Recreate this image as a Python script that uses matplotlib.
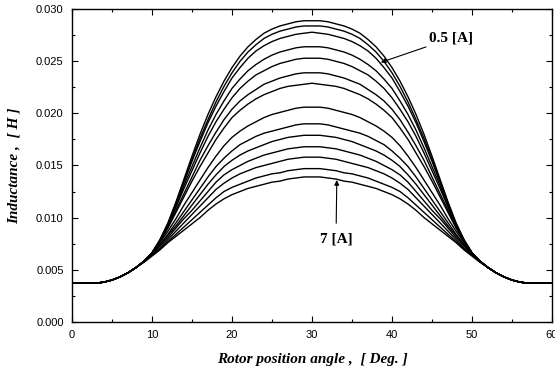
import matplotlib.pyplot as plt
from matplotlib.ticker import MultipleLocator, FormatStrFormatter
import numpy as np

# rotor angle 0..30 deg (1 deg steps); the curves are symmetric about 30 deg
half_angle = list(range(0, 31))
currents = [0.5, 1.0, 1.5, 2.0, 2.5, 3.0, 3.5, 4.0, 4.5, 5.0, 5.5, 6.0, 6.5, 7.0]

# inductance, in units of 1e-4 H
L_05 = [37, 37, 37, 37, 38, 40, 43, 47, 52, 58, 66, 79, 95, 115, 137, 159, 180, 199, 216, 231, 244, 255, 264, 271, 277, 281, 284, 286, 288, 289, 289]
L_10 = [37, 37, 37, 37, 38, 40, 43, 47, 52, 58, 66, 78, 94, 114, 135, 156, 176, 194, 211, 226, 239, 250, 259, 266, 272, 276, 279, 281, 283, 284, 284]
L_15 = [37, 37, 37, 37, 38, 40, 43, 47, 52, 58, 66, 78, 94, 113, 134, 154, 173, 191, 207, 221, 234, 244, 253, 260, 265, 269, 272, 274, 276, 277, 278]
L_20 = [37, 37, 37, 37, 38, 40, 43, 47, 52, 58, 66, 78, 93, 111, 131, 149, 167, 184, 199, 212, 224, 233, 241, 247, 252, 256, 259, 261, 263, 264, 264]
L_25 = [37, 37, 37, 37, 38, 40, 43, 47, 52, 58, 66, 78, 92, 110, 128, 145, 162, 178, 192, 204, 215, 224, 231, 237, 241, 245, 248, 250, 252, 253, 253]
L_30 = [37, 37, 37, 37, 38, 40, 43, 47, 52, 58, 66, 77, 91, 107, 123, 139, 155, 169, 182, 194, 204, 212, 218, 223, 228, 231, 234, 236, 238, 239, 239]
L_35 = [37, 37, 37, 37, 38, 40, 43, 47, 52, 58, 66, 77, 90, 105, 120, 135, 149, 162, 175, 186, 196, 203, 209, 214, 218, 221, 224, 226, 227, 228, 229]
L_40 = [37, 37, 37, 37, 38, 40, 43, 47, 52, 58, 66, 76, 87, 99, 112, 124, 136, 148, 159, 169, 177, 183, 188, 192, 196, 199, 201, 203, 205, 206, 206]
L_45 = [37, 37, 37, 37, 38, 40, 43, 47, 52, 58, 65, 74, 84, 95, 106, 117, 128, 139, 149, 157, 164, 170, 174, 178, 181, 183, 185, 187, 189, 190, 190]
L_50 = [37, 37, 37, 37, 38, 40, 43, 47, 52, 58, 65, 74, 83, 92, 102, 112, 122, 132, 141, 149, 155, 160, 164, 167, 170, 173, 175, 177, 178, 179, 179]
L_55 = [37, 37, 37, 37, 38, 40, 43, 47, 52, 58, 65, 73, 81, 90, 99, 107, 116, 125, 134, 141, 146, 150, 154, 157, 160, 162, 164, 166, 167, 168, 168]
L_60 = [37, 37, 37, 37, 38, 40, 43, 47, 52, 58, 64, 71, 79, 87, 95, 103, 111, 119, 127, 133, 138, 142, 145, 148, 150, 152, 154, 156, 157, 158, 158]
L_65 = [37, 37, 37, 37, 38, 40, 43, 47, 52, 58, 64, 70, 77, 84, 91, 98, 105, 112, 119, 125, 129, 132, 135, 138, 140, 142, 143, 145, 146, 147, 147]
L_70 = [37, 37, 37, 37, 38, 40, 43, 47, 52, 57, 63, 69, 76, 82, 88, 94, 100, 107, 113, 118, 122, 125, 128, 130, 132, 134, 135, 137, 138, 139, 139]

curves = [L_05, L_10, L_15, L_20, L_25, L_30, L_35, L_40, L_45, L_50, L_55, L_60, L_65, L_70]

plt.rcParams.update({"font.family": "Liberation Sans", "font.size": 8})

fig = plt.figure(figsize=(5.55, 3.76), dpi=100)
ax = fig.add_axes([0.1297, 0.1444, 0.8649, 0.8309])

ha = np.array(half_angle, dtype=float)
full_angle = np.concatenate([ha, 60 - ha[-2::-1]])
for L in curves:
    L = np.array(L) * 1e-4
    full_L = np.concatenate([L, L[-2::-1]])
    ax.plot(full_angle, full_L, color="black", lw=1.0)

ax.set_xlim(0, 60)
ax.set_ylim(0, 0.030)
ax.xaxis.set_major_locator(MultipleLocator(10))
ax.xaxis.set_minor_locator(MultipleLocator(5))
ax.yaxis.set_major_locator(MultipleLocator(0.005))
ax.yaxis.set_minor_locator(MultipleLocator(0.0025))
ax.yaxis.set_major_formatter(FormatStrFormatter("%.3f"))
ax.tick_params(which="both", direction="in", top=True, right=True, width=0.8)
ax.tick_params(which="major", length=4, pad=6)
ax.tick_params(which="minor", length=2.5)
for s in ax.spines.values():
    s.set_linewidth(1.0)

lab = dict(family="Liberation Serif", fontweight="bold", style="italic", fontsize=11)
ax.set_xlabel("Rotor position angle ,  [ Deg. ]", labelpad=9, **lab)
ax.set_ylabel("Inductance ,  [ H ]", labelpad=11, **lab)

ann = dict(family="Liberation Serif", fontweight="bold", fontsize=11)
ax.annotate("0.5 [A]", xy=(38.6, 0.0249), xytext=(44.6, 0.0272),
            va="center", ha="left",
            arrowprops=dict(arrowstyle="-|>", color="black", lw=0.8,
                            mutation_scale=7, shrinkA=0, shrinkB=0), **ann)
ax.annotate("7 [A]", xy=(33.1, 0.0136), xytext=(33.0, 0.0079),
            va="center", ha="center",
            arrowprops=dict(arrowstyle="-|>", color="black", lw=0.8,
                            mutation_scale=7, shrinkA=5, shrinkB=0), **ann)

fig.savefig("out.png", dpi=100)
